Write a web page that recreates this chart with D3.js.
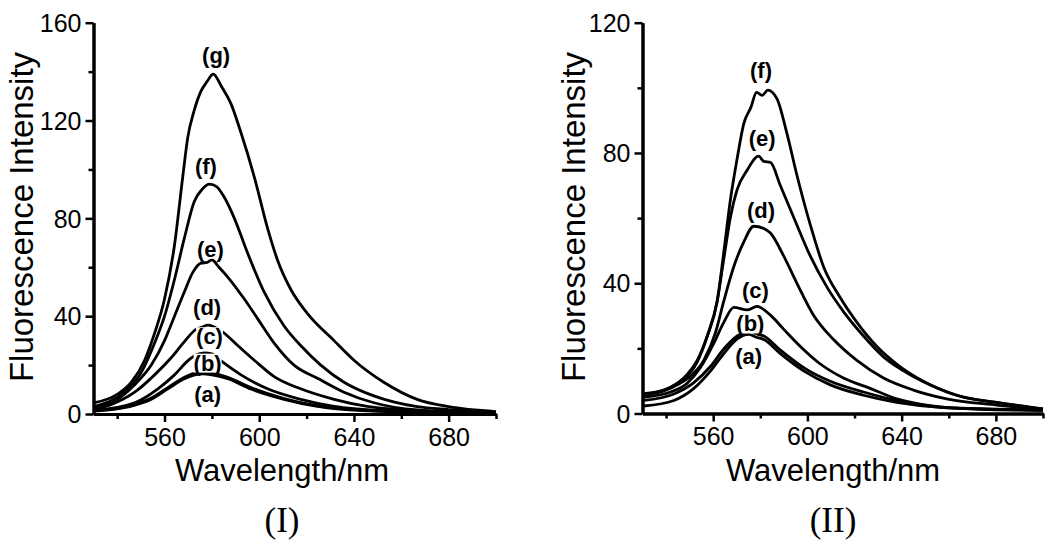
<!DOCTYPE html>
<html><head><meta charset="utf-8">
<script src="https://cdn.jsdelivr.net/npm/d3@7"></script>
<style>
html,body{margin:0;padding:0;background:#fff;}
svg{display:block;}
</style></head>
<body><svg id="c" width="1050" height="550"></svg>
<script>
// ---------- data (wavelength nm, intensity) ----------
const xTicksMajor = [560, 600, 640, 680];
const xTicksMinor = [540, 580, 620, 660, 700];
const yTicksMajorI = [0, 40, 80, 120, 160];
const yTicksMinorI = [20, 60, 100, 140];
const yTicksMajorII = [0, 40, 80, 120];
const yTicksMinorII = [20, 60, 100];

const I_a = [[530,1.2],[544.6,2.9],[554.4,6],[561.4,10.3],[568.4,14.4],[572,15.8],[576,16.4],[580,16],[586.7,14.4],[596.5,10.2],[610.5,6],[624.6,3.1],[645.6,1.3],[700,0.2]];
const I_b = [[530,1.4],[544.6,3.2],[554.4,6.5],[561.4,10.8],[568.4,15],[572,16.5],[576,17.2],[580,16.8],[586.7,15],[596.5,10.8],[610.5,6.3],[624.6,3.3],[645.6,1.5],[700,0.3]];
const I_c = [[530,1.4],[547.4,4.6],[557.2,10.3],[564.2,16],[569.8,21.7],[573,24],[576.8,25],[580,24.6],[583.9,21.7],[592.3,16],[603.5,10.3],[617.5,6],[631.6,3.1],[652.6,1.4],[700,0.3]];
const I_d = [[530,1.7],[537.6,3.9],[547.4,8.9],[555.8,16],[562.8,23],[568.4,29.6],[573.3,34.6],[576,35.5],[578.2,36.3],[583.9,34],[590.9,28],[597.9,22],[606.3,15.3],[617.5,10.3],[631.6,6],[645.6,3.1],[666.7,1.4],[700,0.4]];
const I_e = [[530,2.5],[537.6,4.6],[547.4,12],[554.4,20],[560,30],[564.2,40],[568.4,50],[572,58],[575.4,61.7],[578,62],[580,63],[583,60],[586.7,56],[593.7,47],[599.3,39],[606.3,29],[614.7,20],[624.6,14.6],[635.8,8.9],[648.4,4.6],[666.7,1.7],[700,0.5]];
const I_f = [[530,3],[543,9],[550.2,17],[555.8,29],[560,40],[564.2,55],[568.4,72],[572.6,87],[576,92],[579,94],[582,93],[585,89],[589.5,80],[595,66],[602,50],[610.5,36],[617.5,28],[626,20],[635.8,13],[648.4,7.4],[666.7,3],[680,1.8],[700,0.6]];
const I_g = [[530,4.5],[540,8],[546,13],[551.6,22],[555.8,33],[560,47],[564.2,69],[567.7,97],[569.8,113],[572.5,124],[575.4,132],[578,136],[580.6,139],[584,134],[588,127],[592.3,115],[597.9,97],[603.5,76],[607.7,63],[613.3,51],[620.4,41],[631.6,30],[640,22],[652.6,13],[666.7,6],[680,3],[700,1]];

const II_a = [[530.6,2.3],[543.3,4],[551.8,7.7],[558.9,13.1],[564.5,18.4],[570.2,22.9],[575.1,24.3],[578,23.5],[581.5,22.7],[588.5,18.4],[598.4,13.1],[609.7,8.8],[623.8,5.6],[637.9,3.4],[659.1,1.7],[700,1]];
const II_b = [[530.6,4],[543.3,6],[551.8,9.5],[558.9,14.5],[564.5,19.8],[570.2,23.8],[575.8,25.4],[578,24.6],[581.5,23.8],[588.5,19.5],[598.4,14.1],[609.7,9.9],[623.8,6.6],[637.9,4],[659.1,1.8],[700,1.1]];
const II_c = [[530.6,5],[541.9,6.6],[549,9.3],[554.6,14.1],[560.3,21.6],[564.5,28],[568.8,32.6],[574.4,31.8],[578.6,32.9],[584.3,30.2],[589.9,25.9],[597,20.6],[605.5,15.2],[615.3,10.9],[626.6,7.7],[637.9,4.5],[652,2.4],[673.2,1.3],[700,1]];
const II_d = [[530.6,5.6],[539.1,6.9],[544.8,8.8],[550.4,11.5],[556,16.3],[561,24.9],[564.5,34.5],[568.8,45.2],[573,52.7],[577.2,57.5],[581.5,56.8],[584.3,55.4],[589.9,48.4],[595.6,39.9],[602.6,30.2],[611.1,22.7],[621,16.3],[632.3,10.9],[645,7.2],[659.1,4.5],[680.3,2.6],[700,1.2]];
const II_e = [[530.6,5.8],[539.1,7.2],[546.2,9.9],[553.2,15.8],[557.5,23.8],[561.7,34.5],[564.5,47.4],[567.3,60.2],[570.2,68.8],[574.4,74.7],[579.3,79],[581.5,77.4],[584.3,77.1],[588.5,70],[594.2,60.2],[601.2,48.4],[608.3,38.8],[615.3,31.3],[623.8,23.8],[632.3,17.4],[640.8,13.1],[652,8.8],[666.2,5],[680.3,3.4],[700,1.4]];
const II_f = [[530.6,6.1],[539.1,7.2],[544.8,9.3],[549,12],[553.2,16.3],[557.5,23.8],[561.7,34.5],[564.5,49.5],[567.3,65.6],[570.2,78.4],[573,89],[576,94],[578.4,98.6],[580.8,97.7],[583.2,99.3],[587.1,96.6],[591.3,86],[595.6,73],[601.2,58],[606.9,45],[613.9,35.6],[621,28],[629.5,20.6],[637.9,15.2],[649.2,9.9],[663.3,5.6],[680.3,3.4],[700,1.4]];

const labelNames = ["(a)","(b)","(c)","(d)","(e)","(f)","(g)"];
const labelsI = [[578.2,8.1],[578.2,20.8],[579,31.6],[578,43.6],[579.4,67.4],[577.5,101],[581.8,146.7]];
const labelsII = [[575.1,17.4],[575.8,27.5],[577.9,37.7],[580.3,62.4],[580.8,84.3],[580.3,105.2]];

const panels = [
  {series:[I_a,I_b,I_c,I_d,I_e,I_f,I_g], labels:labelsI, yMax:160, yMaj:yTicksMajorI, yMin:yTicksMinorI,
   left:93.5, right:496, top:22.7, bottom:414, title:"(I)", ytitleX:21, cx:282},
  {series:[II_a,II_b,II_c,II_d,II_e,II_f], labels:labelsII, yMax:120, yMaj:yTicksMajorII, yMin:yTicksMinorII,
   left:642.5, right:1043, top:22.7, bottom:413.5, title:"(II)", ytitleX:573, cx:833}
];

const svg = d3.select("#c");
const sans = "'Liberation Sans', Arial, Helvetica, sans-serif";

panels.forEach(p => {
  const x = d3.scaleLinear().domain([530, 700]).range([p.left, p.right]);
  const y = d3.scaleLinear().domain([0, p.yMax]).range([p.bottom, p.top]);
  const g = svg.append("g");

  const ln = d3.line().x(d => x(d[0])).y(d => y(d[1])).curve(d3.curveMonotoneX);
  p.series.forEach(s => {
    g.append("path").attr("d", ln(s)).attr("fill","none").attr("stroke","#000")
     .attr("stroke-width",2.8).attr("stroke-linejoin","round");
  });

  // labels with white boxes
  p.labels.forEach((l, i) => {
    const t = g.append("text").attr("x", x(l[0])).attr("y", y(l[1]))
      .attr("text-anchor","middle").attr("dominant-baseline","central")
      .attr("font-family", sans).attr("font-weight","bold").attr("font-size",22)
      .text(labelNames[i]);
    const bb = t.node().getBBox();
    g.insert("rect", () => t.node()).attr("x", bb.x).attr("y", bb.y+3)
      .attr("width", bb.width).attr("height", bb.height-6).attr("fill","#fff");
  });

  // axes
  const xa = g.append("g").attr("transform", `translate(0,${p.bottom})`)
    .call(d3.axisBottom(x).tickValues(xTicksMajor).tickSize(8).tickSizeOuter(0).tickPadding(6));
  const xm = g.append("g").attr("transform", `translate(0,${p.bottom})`)
    .call(d3.axisBottom(x).tickValues(xTicksMinor).tickSize(5).tickSizeOuter(0).tickFormat(""));
  const ya = g.append("g").attr("transform", `translate(${p.left},0)`)
    .call(d3.axisLeft(y).tickValues(p.yMaj).tickSize(8).tickSizeOuter(0).tickPadding(4));
  const ym = g.append("g").attr("transform", `translate(${p.left},0)`)
    .call(d3.axisLeft(y).tickValues(p.yMin).tickSize(5).tickSizeOuter(0).tickFormat(""));
  [xa,xm,ya,ym].forEach(a => {
    a.selectAll("path.domain").attr("stroke","#000").attr("stroke-width",3);
    a.selectAll("line").attr("stroke","#000").attr("stroke-width",2.5);
    a.selectAll("text").attr("font-family", sans).attr("font-size",25).attr("fill","#000");
  });
  xa.selectAll("text").attr("dy","0.71em");
  ya.selectAll("text").attr("dy","0.35em");

  g.append("text").attr("x", p.cx).attr("y", 481).attr("text-anchor","middle")
    .attr("font-family", sans).attr("font-size",31)
    .text("Wavelength/nm");
  g.append("text").attr("transform", `translate(${p.ytitleX},217) rotate(-90)`)
    .attr("text-anchor","middle").attr("dominant-baseline","central")
    .attr("font-family", sans).attr("font-size",33).text("Fluorescence Intensity");
  g.append("text").attr("x", p.cx).attr("y", 520).attr("text-anchor","middle")
    .attr("dominant-baseline","central")
    .attr("font-family","'Liberation Serif','Times New Roman',serif").attr("font-size",35)
    .text(p.title);
});
</script></body></html>
